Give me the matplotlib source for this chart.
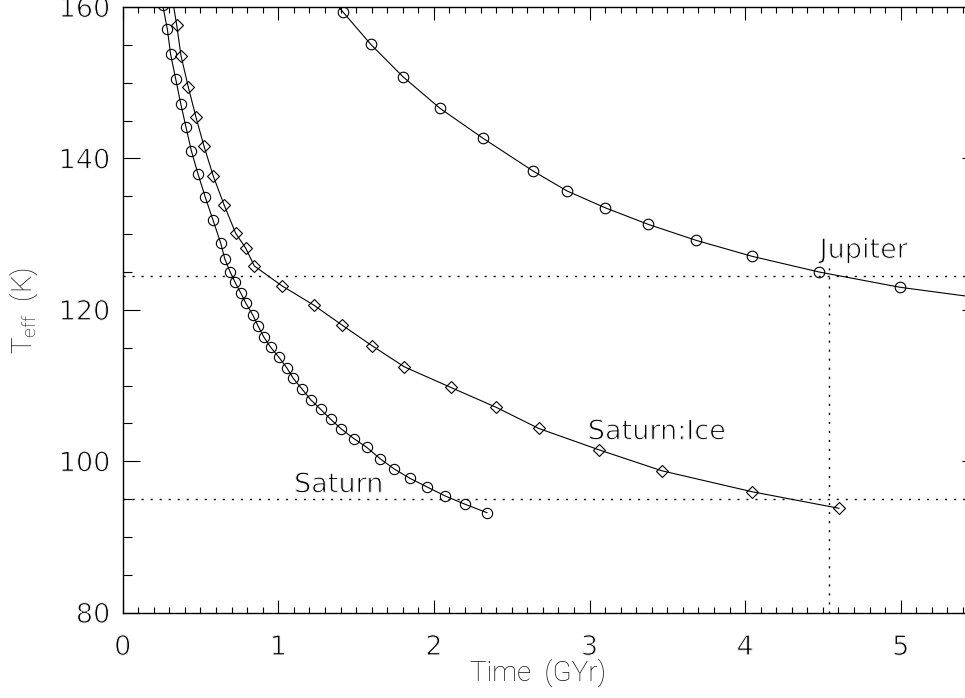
import matplotlib.pyplot as plt
import matplotlib.patheffects as pe
from matplotlib.ticker import MultipleLocator

# Шрифт: DejaVu, штрихи слегка утончены белой обводкой (как векторный шрифт IDL)
plt.rcParams['font.family'] = ['DejaVu Sans']
plt.rcParams['mathtext.fontset'] = 'custom'
plt.rcParams['mathtext.rm'] = 'Roboto:light'
plt.rcParams['font.size'] = 19.5
thin = [pe.Normal(), pe.Stroke(linewidth=0.75, foreground='white')]

# Jupiter (кружки)
jup_t = [1.414, 1.594, 1.801, 2.039, 2.316, 2.637, 2.856, 3.100, 3.376,
         3.685, 4.045, 4.475, 4.996]
jup_T = [159.38, 155.07, 150.79, 146.62, 142.66, 138.34, 135.70, 133.49,
         131.30, 129.18, 127.07, 125.00, 122.98]
# концы кривой за пределами маркеров
jup_start = (1.35, 160.9)
jup_end = (5.5, 121.6)

# Saturn (кружки)
sat_t = [0.257, 0.287, 0.308, 0.341, 0.373, 0.407, 0.441, 0.484, 0.531,
         0.580, 0.629, 0.657, 0.690, 0.722, 0.758, 0.792, 0.836, 0.870,
         0.908, 0.951, 1.004, 1.054, 1.096, 1.154, 1.210, 1.272, 1.337,
         1.405, 1.487, 1.568, 1.654, 1.745, 1.846, 1.953, 2.073, 2.202,
         2.341]
sat_T = [160.26, 157.05, 153.75, 150.45, 147.23, 144.11, 141.02, 137.94,
         134.86, 131.87, 128.87, 126.68, 125.04, 123.64, 122.26, 120.86,
         119.32, 117.87, 116.37, 115.05, 113.73, 112.36, 110.96, 109.50,
         108.09, 106.86, 105.54, 104.26, 102.98, 101.84, 100.34, 98.98,
         97.75, 96.64, 95.41, 94.31, 93.21]

# Saturn:Ice (ромбы)
ice_t = [0.347, 0.375, 0.422, 0.471, 0.522, 0.582, 0.651, 0.726, 0.790,
         0.846, 1.022, 1.229, 1.411, 1.604, 1.810, 2.109, 2.402, 2.673,
         3.064, 3.464, 4.044, 4.603]
ice_T = [157.62, 153.53, 149.39, 145.43, 141.64, 137.68, 133.89, 130.11,
         128.17, 125.79, 123.19, 120.61, 117.97, 115.24, 112.47, 109.75,
         107.11, 104.34, 101.49, 98.75, 95.98, 93.79]
ice_start = (0.32, 161.0)

# Пунктирные линии: текущие T и возраст Солнечной системы
T_jup_now = 124.47
T_sat_now = 95.05
age_now = 4.54

fig = plt.figure(figsize=(9.65, 6.98), dpi=100)
ax = fig.add_axes([0.12715, 0.12221, 0.88684, 0.86777])

lw = 0.8
ax.plot([jup_start[0]] + jup_t + [jup_end[0]],
        [jup_start[1]] + jup_T + [jup_end[1]], color='black', lw=lw)
ax.plot(jup_t, jup_T, 'o', ms=7.6, mfc='none', mec='black', mew=0.8)

ax.plot(sat_t, sat_T, color='black', lw=lw)
ax.plot(sat_t, sat_T, 'o', ms=7.4, mfc='none', mec='black', mew=0.8)

ax.plot([ice_start[0]] + ice_t, [ice_start[1]] + ice_T, color='black', lw=lw)
ax.plot(ice_t, ice_T, 'D', ms=6.3, mfc='none', mec='black', mew=0.8)

dots = (0, (1.5, 5.0))
ax.axhline(T_jup_now, color='black', lw=1.0, ls=dots)
ax.axhline(T_sat_now, color='black', lw=1.0, ls=dots)
ax.plot([age_now, age_now], [80, 126], color='black', lw=1.0, ls=dots)

ax.text(4.479, 126.85, 'Jupiter', ha='left', va='baseline', path_effects=thin)
ax.text(2.989, 102.90, 'Saturn:Ice', ha='left', va='baseline', path_effects=thin)
ax.text(1.101, 95.90, 'Saturn', ha='left', va='baseline', path_effects=thin)

ax.set_xlim(0, 5.5)
ax.set_ylim(80, 160)
ax.xaxis.set_major_locator(MultipleLocator(1))
ax.xaxis.set_minor_locator(MultipleLocator(0.1))
ax.yaxis.set_major_locator(MultipleLocator(20))
ax.yaxis.set_minor_locator(MultipleLocator(5))

ax.tick_params(which='both', direction='in', top=True, right=True, width=0.8)
ax.tick_params(axis='x', which='major', length=9.2, pad=16)
ax.tick_params(axis='x', which='minor', length=4.5)
ax.tick_params(axis='y', which='major', length=12.3, pad=9)
ax.tick_params(axis='y', which='minor', length=6.5)
for s in ax.spines.values():
    s.set_linewidth(1.0)
for lab in ax.get_xticklabels() + ax.get_yticklabels():
    lab.set_path_effects(thin)

lab_font = ['Roboto', 'DejaVu Sans']
ax.set_xlabel('Time  (GYr)', family=lab_font, size=20, weight='light',
              color='#111111')
ax.xaxis.set_label_coords((538 - 122.7) / 855.8, -(681 - 612.7) / 605.7)
ax.xaxis.label.set_va('baseline')
fig.text(24 / 965, 1 - 310 / 698, r'T$_{\rm eff}$  (K)', rotation=90,
         ha='center', va='center', family=lab_font, size=20, weight='light',
         color='#111111')

plt.savefig('out.png', dpi=100)
